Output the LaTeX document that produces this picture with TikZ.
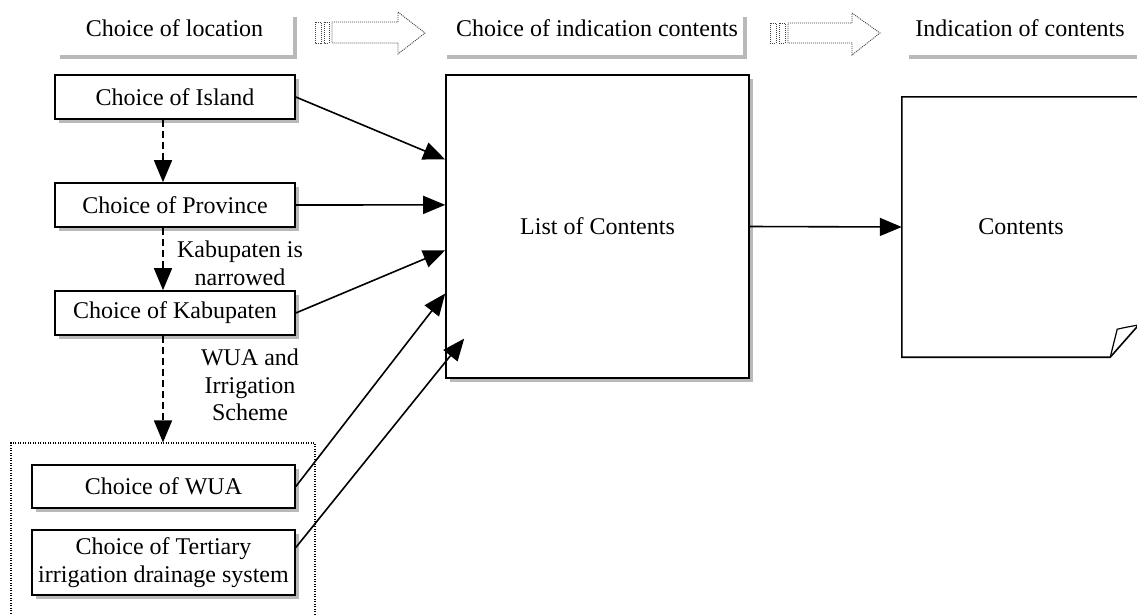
\documentclass[tikz,border=0pt]{standalone}
\usepackage{fontspec}
\setmainfont{Liberation Serif}
\usetikzlibrary{arrows.meta,shadows,calc}
\begin{document}
\begin{tikzpicture}[x=1pt,y=-1pt,
  txt/.style={font=\fontsize{24}{27.5}\selectfont, align=center, inner sep=0pt},
  shad/.style={drop shadow={shadow xshift=3.5pt, shadow yshift=-3.5pt, fill=gray!55, opacity=1}},
  boxn/.style={txt, draw, line width=1.6pt, fill=white, shad},
  headbox/.style={fill=white, inner sep=0pt, minimum height=42pt, shad},
  arr/.style={line width=1.6pt, -{Triangle[length=22pt,width=18pt]}},
  darr/.style={arr, dash pattern=on 7pt off 4pt},
  hollow/.style={draw=gray!50!black, line width=0.9pt, dash pattern=on 1pt off 1pt, fill=white}
]
\useasboundingbox (0,0) rectangle (1137,614);
\clip (0,0) rectangle (1137,614);

% headings
\node[headbox, minimum width=237pt] (h1) at (174.5,34) {};
\node[headbox, minimum width=300pt] (h2) at (593,34) {};
\node[headbox, minimum width=240pt] (h3) at (1025,34) {};
\node[txt] (h1t) at ([yshift=6pt]h1.center) {Choice of location};
\node[txt] (h2t) at ([xshift=4pt,yshift=6pt]h2.center) {Choice of indication contents};
\node[txt] (h3t) at ([xshift=-5pt,yshift=6pt]h3.center) {Indication of contents};

% hollow striped arrows
\draw[hollow] (315,22) rectangle (321,43);
\draw[hollow] (324,22) rectangle (329,43);
\draw[hollow] (332,22) -- (398,22) -- (398,12) -- (425,33) -- (398,54) -- (398,43) -- (332,43) -- cycle;
\draw[hollow] (770,23) rectangle (776,43);
\draw[hollow] (779,23) rectangle (785,43);
\draw[hollow] (788,23) -- (852,23) -- (852,13) -- (880,33) -- (852,55) -- (852,43) -- (788,43) -- cycle;

% group box
\node[draw, line width=1.1pt, dash pattern=on 1pt off 1.5pt, minimum width=304pt, minimum height=190pt, inner sep=0pt] (grp) at (163,538) {};

% left boxes
\node[boxn, minimum width=240pt, minimum height=44pt] (isl) at (175,97) {Choice of Island};
\node[boxn, minimum width=240pt, minimum height=44pt] (prov) at (175,205) {Choice of Province};
\node[boxn, minimum width=240pt, minimum height=44pt] (kab) at (175,313) {Choice of Kabupaten};
\node[boxn, minimum width=263pt, minimum height=43pt] (wua) at (163.5,486.5) {Choice of WUA};
\node[boxn, minimum width=263pt, minimum height=65pt] (ter) at (163.5,562.5) {Choice of Tertiary\\irrigation drainage system};

% list of contents
\node[boxn, minimum width=303pt, minimum height=303pt] (list) at (597.5,226.5) {List of Contents};

% contents (page)
\node[txt, minimum width=238pt, minimum height=260pt] (cont) at (1021,227) {Contents};
\draw[line width=1.6pt, line join=miter] (cont.north east) -- (cont.north west) -- (cont.south west) -- ([xshift=-30pt]cont.south east) -- ([yshift=34pt]cont.south east);
\draw[line width=1.2pt, line join=round] ([xshift=-30pt]cont.south east) -- ([xshift=-23pt,yshift=28pt]cont.south east) .. controls ([xshift=-14pt,yshift=30pt]cont.south east) .. ([xshift=-3pt,yshift=32pt]cont.south east);

% labels
\node[txt] (lab1) at (240,263.5) {Kabupaten is\\narrowed};
\node[txt] (lab2) at (250,385) {WUA and\\Irrigation\\Scheme};

% dashed arrows
\draw[darr] ([xshift=-12pt]isl.south) -- ([xshift=-12pt]prov.north);
\draw[darr] ([xshift=-12pt]prov.south) -- ([xshift=-12pt]kab.north);
\draw[darr] ([xshift=-12pt]kab.south) -- (grp.north);

% arrows into list
\draw[arr] (isl.east) -- ($(list.north west)!0.28!(list.south west)$);
\draw[arr] (prov.east) -- ($(list.north west)!0.429!(list.south west)$);
\draw[arr] (kab.east) -- ($(list.north west)!0.578!(list.south west)$);
\draw[arr] (wua.east) -- ($(list.north west)!0.72!(list.south west)$);
\draw[arr] ([yshift=15pt]ter.east) -- ($(list.north west)!0.868!(list.south west)+(19,0)$);

% list to contents
\draw[arr] (list.east) -- (cont.west);
\end{tikzpicture}
\end{document}
